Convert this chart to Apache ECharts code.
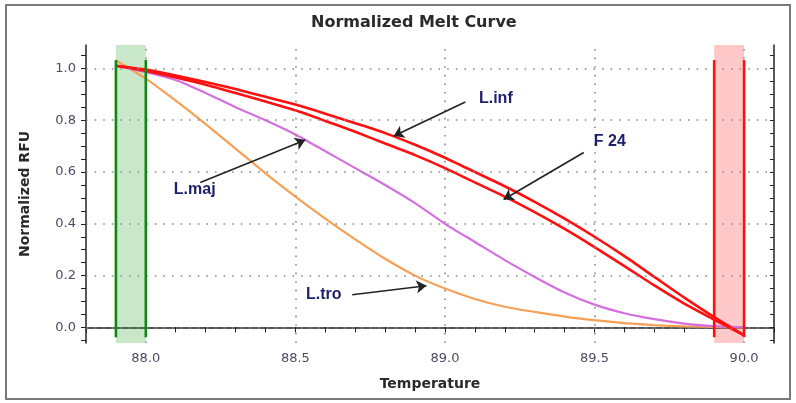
<!DOCTYPE html>
<html>
<head>
<meta charset="utf-8">
<script src="https://cdn.jsdelivr.net/npm/echarts@6/dist/echarts.min.js"></script>
<style>
  html, body { margin: 0; padding: 0; background: #fff; }
  #chart { width: 796px; height: 403px; }
</style>
</head>
<body>
<div id="chart"></div>
<script>
// temperatures (°C) where the curves were read
var temps = [87.9, 88.0, 88.1, 88.2, 88.3, 88.4, 88.5, 88.6, 88.7, 88.8, 88.9,
             89.0, 89.1, 89.2, 89.3, 89.4, 89.5, 89.6, 89.7, 89.8, 89.9, 90.0];

var lTro = [1.03, 0.96, 0.875, 0.785, 0.69, 0.595, 0.505, 0.42, 0.34, 0.265, 0.20,
            0.15, 0.11, 0.08, 0.06, 0.042, 0.028, 0.017, 0.009, 0.004, 0.002, 0.0];
var lMaj = [1.01, 0.985, 0.955, 0.905, 0.85, 0.80, 0.745, 0.68, 0.615, 0.55, 0.48,
            0.40, 0.33, 0.26, 0.195, 0.135, 0.088, 0.055, 0.032, 0.015, 0.005, 0.0];
var lInf = [1.01, 0.995, 0.972, 0.947, 0.92, 0.89, 0.86, 0.825, 0.788, 0.75, 0.705,
            0.655, 0.60, 0.545, 0.485, 0.42, 0.35, 0.275, 0.195, 0.115, 0.04, -0.03];
var f24  = [1.01, 0.99, 0.965, 0.937, 0.905, 0.872, 0.838, 0.797, 0.755, 0.71, 0.665,
            0.615, 0.56, 0.505, 0.445, 0.38, 0.31, 0.237, 0.162, 0.092, 0.03, -0.03];

// melt region markers
var startBand = [87.9, 88.0];
var endBand = [89.9, 90.0];
var markerTop = 1.032;
var markerBottom = -0.038;

// axes
var xLabels = [88.0, 88.5, 89.0, 89.5, 90.0];
var yLabels = [0.0, 0.2, 0.4, 0.6, 0.8, 1.0];
var xTicks = [];
for (var i = 878; i <= 901; i++) xTicks.push(i / 10);
var yTicks = [];
for (var j = -1; j <= 21; j++) yTicks.push(j / 20);

// annotations: text anchor, arrow start, arrow end
var notes = [
  { text: 'L.inf', at: [89.112, 0.884], from: [89.068, 0.870], to: [88.829, 0.739] },
  { text: 'F 24',  at: [89.496, 0.718], from: [89.464, 0.675], to: [89.196, 0.494] },
  { text: 'L.maj', at: [88.092, 0.533], from: [88.182, 0.559], to: [88.533, 0.723] },
  { text: 'L.tro', at: [88.534, 0.126], from: [88.690, 0.126], to: [88.938, 0.161] }
];

function pairs(xs, ys) {
  return xs.map(function (x, k) { return [x, ys[k]]; });
}

var tickColor = '#4b4b63';
var axisColor = '#222';
var gridDots = { color: '#8a8a8a', width: 1.6, type: [1.6, 7] };

function curve(name, values, color, width) {
  return {
    name: name, type: 'line', data: pairs(temps, values),
    showSymbol: false, smooth: 0.2, z: 4,
    lineStyle: { color: color, width: width }
  };
}

function marker(x, color) {
  return {
    type: 'line', data: [[x, markerTop], [x, markerBottom]],
    showSymbol: false, z: 5, lineStyle: { color: color, width: 2.6 }
  };
}

var option = {
  animation: false,
  backgroundColor: '#fff',
  title: {
    text: 'Normalized Melt Curve',
    left: 306, top: 10,
    textStyle: { fontFamily: 'DejaVu Sans', fontWeight: 'bold', fontSize: 16, color: '#2a2a2a' }
  },
  graphic: [{
    type: 'rect', z: -1, silent: true,
    shape: { x: 6, y: 5, width: 784, height: 394 },
    style: { fill: 'none', stroke: '#7a7a7a', lineWidth: 2 }
  }],
  grid: { left: 86, right: 22, top: 45, bottom: 60 },
  xAxis: [{
    type: 'value', position: 'bottom', min: 87.8, max: 90.1,
    axisLine: { show: true, lineStyle: { color: axisColor, width: 1.5 } },
    axisTick: { show: true, customValues: xTicks, length: 5, lineStyle: { color: axisColor } },
    axisLabel: {
      customValues: xLabels, margin: 9, color: tickColor, fontSize: 13, fontFamily: 'DejaVu Sans',
      formatter: function (v) { return v.toFixed(1); }
    },
    splitLine: { show: false },
    name: 'Temperature', nameLocation: 'middle', nameGap: 34,
    nameTextStyle: { fontFamily: 'DejaVu Sans', fontWeight: 'bold', fontSize: 14, color: '#2a2a2a' }
  }, {
    type: 'value', position: 'top', min: 87.8, max: 90.1,
    axisLine: { show: true, lineStyle: { color: '#555', width: 2 } },
    axisTick: { show: true, inside: true, customValues: xTicks, length: 4, lineStyle: { color: axisColor } },
    axisLabel: { show: false },
    splitLine: { show: false }
  }],
  yAxis: [{
    type: 'value', position: 'left', min: -0.06, max: 1.09,
    axisLine: { show: true, lineStyle: { color: axisColor, width: 1.5 } },
    axisTick: { show: true, customValues: yTicks, length: 5, lineStyle: { color: axisColor } },
    axisLabel: {
      customValues: yLabels, margin: 10, color: tickColor, fontSize: 13, fontFamily: 'DejaVu Sans',
      formatter: function (v) { return v.toFixed(1); }
    },
    splitLine: { show: false },
    name: 'Normalized RFU', nameLocation: 'middle', nameGap: 54, nameRotate: 90,
    nameTextStyle: { fontFamily: 'DejaVu Sans', fontWeight: 'bold', fontSize: 14, color: '#2a2a2a' }
  }, {
    type: 'value', position: 'right', min: -0.06, max: 1.09,
    axisLine: { show: true, lineStyle: { color: axisColor, width: 1.5 } },
    axisTick: { show: true, inside: true, customValues: yTicks, length: 4, lineStyle: { color: axisColor } },
    axisLabel: { show: false },
    splitLine: { show: false }
  }],
  series: [
    {
      // grid lines and the two melt-region bands
      type: 'line', data: [], z: 1, silent: true,
      markArea: {
        silent: true,
        data: [
          [{ xAxis: startBand[0], itemStyle: { color: 'rgba(40,160,40,0.25)' } }, { xAxis: startBand[1] }],
          [{ xAxis: endBand[0], itemStyle: { color: 'rgba(255,60,60,0.28)' } }, { xAxis: endBand[1] }]
        ]
      },
      markLine: {
        silent: true, symbol: 'none', label: { show: false },
        lineStyle: gridDots,
        data: xLabels.map(function (v) { return { xAxis: v }; })
          .concat(yLabels.map(function (v) { return { yAxis: v }; }))
      }
    },
    curve('L.tro', lTro, '#f5a055', 2.2),
    curve('L.maj', lMaj, '#d46fe0', 2.2),
    curve('L.inf', lInf, '#ff1010', 2.6),
    curve('F 24', f24, '#ff1010', 2.6),
    marker(startBand[0], '#118811'),
    marker(startBand[1], '#118811'),
    marker(endBand[0], '#ff1010'),
    marker(endBand[1], '#ff1010'),
    {
      // arrows and labels
      type: 'line', data: [], z: 6, silent: true,
      markLine: {
        silent: true, symbol: ['none', 'arrow'], symbolSize: 10,
        label: { show: false },
        lineStyle: { color: '#222', width: 1.6, type: 'solid' },
        data: notes.map(function (n) { return [{ coord: n.from }, { coord: n.to }]; })
      },
      markPoint: {
        silent: true, symbol: 'circle', symbolSize: 1,
        itemStyle: { color: 'rgba(0,0,0,0)' },
        label: {
          show: true, position: 'right', distance: 0,
          fontFamily: 'Liberation Sans', fontWeight: 'bold', fontSize: 16, color: '#1c1f6b',
          formatter: function (p) { return p.name; }
        },
        data: notes.map(function (n) { return { name: n.text, coord: n.at }; })
      }
    }
  ]
};

echarts.init(document.getElementById('chart')).setOption(option);
</script>
</body>
</html>
